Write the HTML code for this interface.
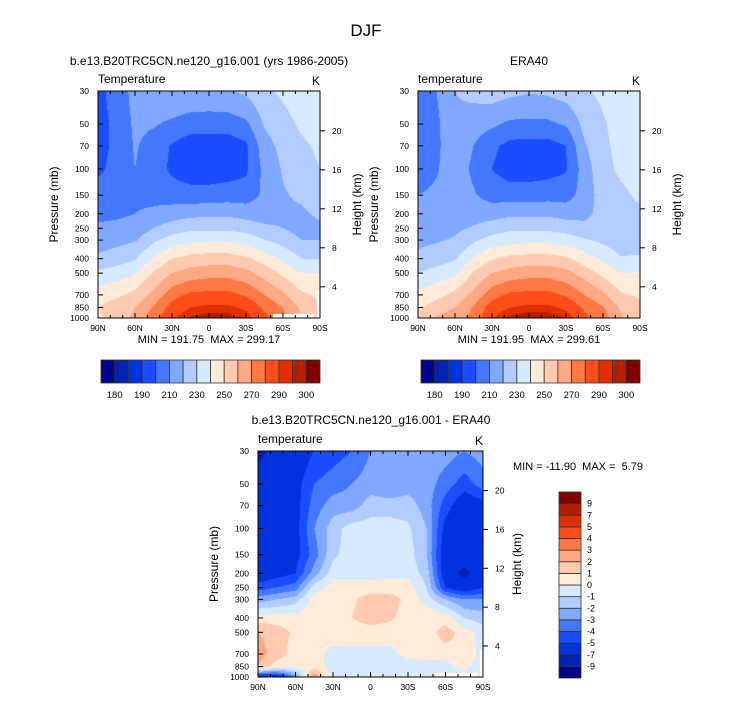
<!DOCTYPE html>
<html><head><meta charset="utf-8">
<style>
body{margin:0;background:#fff;}
#root{position:relative;width:733px;height:701px;overflow:hidden;font-family:"Liberation Sans",sans-serif;}
canvas{position:absolute;}
svg{position:absolute;left:0;top:0;}
</style></head>
<body>
<div id="root">
<canvas id="c1" width="222" height="227" style="left:98px;top:91px"></canvas>
<canvas id="c2" width="222" height="227" style="left:418px;top:91px"></canvas>
<canvas id="c3" width="225" height="226" style="left:258px;top:451px"></canvas>
<svg id="ov" width="733" height="701"></svg>
</div>
<script>
const lats=[90,75,60,45,30,15,0,-15,-30,-45,-60,-75,-90];
const levels=[30,50,70,100,150,200,250,300,400,500,700,850,1000];
const modelT=[
[198,197,197,198,204,207,212,215,222,232,245,250,248],
[203,202,202,203,206,208,213,217,225,235,248,255,255],
[214,212,211,210,208,210,214,219,229,239,253,260,262],
[218,211,206,205,207,212,220,228,241,251,263,271,276],
[220,208,199,198,205,215,225,234,250,260,276,284,288],
[219,205,194,194,204,217,228,237,254,264,282,290,296],
[218,205,194,194,204,218,228,238,255,266,283,292,298],
[219,205,194,195,205,218,228,238,255,266,283,292,298],
[222,208,198,198,205,216,226,236,252,263,279,288,294],
[228,221,216,213,212,215,222,230,245,256,270,278,283],
[232,226,223,221,219,218,220,226,238,248,262,270,273],
[237,232,228,226,222,218,216,220,230,240,252,258,260],
[238,236,232,230,228,222,218,220,230,240,248,250,250]];
const eraT=[
[206,203,203,204,210,213,217,218,222,230,243,248,254],
[210,208,208,209,212,214,217,219,225,234,247,255,261],
[220,218,217,216,214,215,218,221,229,238,253,260,265],
[223,215,210,208,211,215,221,228,241,251,263,271,273],
[225,212,202,200,206,216,225,234,249,260,276,285,289],
[223,208,197,195,205,218,228,236,253,264,282,290,297],
[221,208,196,195,205,218,228,237,254,266,283,292,299],
[222,208,196,196,206,218,228,237,254,266,283,292,299],
[225,211,200,199,206,216,226,235,252,263,279,288,295],
[229,223,219,215,214,217,223,231,244,256,270,278,283],
[232,229,228,227,225,224,225,228,238,247,262,271,274],
[235,234,233,232,228,226,222,223,231,240,251,258,261],
[237,236,235,234,232,228,223,223,232,241,249,251,251]];
const diffT=[
[-7.5,-6,-6,-6,-6,-6,-4.5,-2.5,0.5,2,2.5,2,-6],
[-6.5,-6,-6,-6,-6,-5.5,-4,-2,0.5,1.5,1.5,0.5,-6],
[-6,-5.5,-5.5,-5.5,-5.5,-5,-3.5,-1.5,0.5,0.8,0.5,0.3,-3],
[-5,-4,-3.5,-3,-3.5,-2.5,-0.5,0.5,0.5,0.5,0.3,0.5,3],
[-4.5,-3.5,-2.5,-1.5,-1.2,-0.5,0.5,0.5,0.8,0.5,-0.3,-0.5,-0.5],
[-4,-3,-2.5,-0.5,-0.5,-0.5,0.5,0.8,1,0.5,-0.3,-0.5,-0.5],
[-3,-2.5,-1.5,-0.5,-0.5,-0.5,0.5,1.5,1.5,0.5,-0.3,-0.5,-0.5],
[-2.5,-3,-1.5,-0.5,-0.5,-0.3,0.5,1.5,1.2,0.5,-0.3,-0.5,-0.5],
[-2.5,-2.5,-1.5,-0.8,-0.5,-0.3,0.5,0.7,0.5,0.5,0.3,-0.5,-0.5],
[-2.5,-2.5,-2.5,-2,-2,-1.5,-1,-0.5,0.8,0.5,0.3,-0.3,-0.5],
[-2.5,-3.5,-4.5,-5.5,-6,-6,-5,-2,0.5,1.5,0.5,-0.5,-0.5],
[-3,-4.5,-6,-6,-6,-7.5,-6,-3,-1,0.5,1,0.5,-1],
[-2.5,-3.5,-5.5,-5.5,-5.5,-6,-5,-3,-1.5,-0.5,-0.5,-1,-1]];
const tBounds=[180,185,190,200,210,220,230,240,250,260,270,280,290,295,300];
const tLabels=["180","190","210","230","250","270","290","300"];
const dBounds=[-9,-7,-5,-4,-3,-2,-1,0,1,2,3,4,5,7,9];
const dLabels=["-9","-7","-5","-4","-3","-2","-1","0","1","2","3","4","5","7","9"];
const latTicks=["90N","60N","30N","0","30S","60S","90S"];
const pTicks=[30,50,70,100,150,200,250,300,400,500,700,850,1000];
const hTicks=[4,8,12,16,20];
const colors=["#000088","#0022b0","#0033dd","#1a4dff","#4477ff","#80a8ff","#b3ccff","#d6ebff","#ffebd8","#ffcab0","#ffa884","#ff7845","#ff4d1a","#e03000","#b02000","#800000"];

const L30=Math.log10(30),LR=Math.log10(1000)-L30;
function pToFrac(p){return (Math.log10(p)-L30)/LR;}
function hToP(h){return 1128*Math.exp(-h/6.64);}
function rgb(h){return [parseInt(h.substr(1,2),16),parseInt(h.substr(3,2),16),parseInt(h.substr(5,2),16)];}
const crgb=colors.map(rgb);
const lp=levels.map(p=>Math.log10(p));
function sample(g,lat,p){
  let fi=(90-lat)/15; fi=Math.max(0,Math.min(12,fi));
  const l=Math.log10(p); let j=0; while(j<11&&lp[j+1]<l)j++;
  let fj=(l-lp[j])/(lp[j+1]-lp[j]); fj=Math.max(0,Math.min(1,fj));
  const i=Math.min(11,Math.floor(fi)), fi2=fi-i;
  const a=g[i][j],b=g[i][j+1],c=g[i+1][j],d=g[i+1][j+1];
  return (a*(1-fj)+b*fj)*(1-fi2)+(c*(1-fj)+d*fj)*fi2;
}
function masked(lat,p){return (lat<-52&&lat>-85&&p>940)||(lat<-87.5&&p>650);}
function drawField(id,g,bounds,useMask){
  const cv=document.getElementById(id),ctx=cv.getContext('2d');
  const W=cv.width,H=cv.height,img=ctx.createImageData(W,H);
  for(let y=0;y<H;y++){const p=Math.pow(10,L30+(y+0.5)/H*LR);
    for(let x=0;x<W;x++){const lat=90-(x+0.5)/W*180;const k=(y*W+x)*4;
      let c=[255,255,255];
      if(!(useMask&&masked(lat,p))){const v=sample(g,lat,p);let ci=0;while(ci<bounds.length&&v>=bounds[ci])ci++;c=crgb[ci];}
      img.data[k]=c[0];img.data[k+1]=c[1];img.data[k+2]=c[2];img.data[k+3]=255;}}
  ctx.putImageData(img,0,0);
}
drawField('c1',modelT,tBounds,true);
drawField('c2',eraT,tBounds,false);
drawField('c3',diffT,dBounds,true);

const NS="http://www.w3.org/2000/svg",ov=document.getElementById('ov');
function el(tag,attrs,txt){const e=document.createElementNS(NS,tag);for(const k in attrs)e.setAttribute(k,attrs[k]);if(txt!==undefined)e.textContent=txt;ov.appendChild(e);return e;}
function txt(x,y,s,size,anchor,name,extra){const t=el('text',Object.assign({x:x,y:y,'font-size':size,'text-anchor':anchor||'start','font-family':'Liberation Sans, sans-serif',fill:'#000',style:'white-space:pre'},extra||{}),s);

return t;}

function axes(x0,y0,w,h,pre,leftTitleX,rightTitleX,label){
  const r=el('rect',{x:x0,y:y0,width:w,height:h,fill:'none',stroke:'#000','stroke-width':1});
  
  
  const xs=v=>x0+(90-v)/180*w, ys=p=>y0+pToFrac(p)*h;
  for(let v=90;v>=-90;v-=10){const X=xs(v);const major=(v%30===0);const L=major?5:3;
    el('line',{x1:X,y1:y0+h,x2:X,y2:y0+h-L,stroke:'#000'});el('line',{x1:X,y1:y0,x2:X,y2:y0+L,stroke:'#000'});}
  latTicks.forEach((s,i)=>{txt(x0+i*w/6,y0+h+13,s,8.5,'middle',pre+'-x-tick-label');});
  pTicks.forEach(p=>{const Y=ys(p);el('line',{x1:x0,y1:Y,x2:x0+5,y2:Y,stroke:'#000'});
    txt(x0-9,Y+3,String(p),8.5,'end',pre+'-y-tick-label');});
  hTicks.forEach(hh=>{const Y=ys(hToP(hh));el('line',{x1:x0+w,y1:Y,x2:x0+w+5,y2:Y,stroke:'#000'});
    txt(x0+w+12,Y+3,String(hh),8.5,'start',pre+'-height-tick-label');});
  txt(0,0,'Pressure (mb)',12,'middle',pre+'-y-axis-title',{transform:`translate(${leftTitleX},${y0+h/2}) rotate(-90)`});
  txt(0,0,'Height (km)',12,'middle',pre+'-height-axis-title',{transform:`translate(${rightTitleX},${y0+h/2}) rotate(-90)`});
  txt(x0,y0-8,label,12,'start',pre+'-variable-label');
  txt(x0+w,y0-6,'K',12,'end',pre+'-units-label');
}
axes(98,91,222,227,'model',58,361,'Temperature');
axes(418,91,222,227,'era40',378,681,'temperature');
axes(258,451,225,226,'diff',218,521,'temperature');

txt(366,36,'DJF',17,'middle','figure-title');
txt(209,65,'b.e13.B20TRC5CN.ne120_g16.001 (yrs 1986-2005)',12,'middle','model-panel-title');
txt(529,65,'ERA40',12,'middle','era40-panel-title');
txt(209,343,'MIN = 191.75  MAX = 299.17',11,'middle','model-min-max');
txt(529,343,'MIN = 191.95  MAX = 299.61',11,'middle','era40-min-max');
txt(371,424,'b.e13.B20TRC5CN.ne120_g16.001 - ERA40',12,'middle','diff-panel-title');
txt(513,470,'MIN = -11.90  MAX =  5.79',11,'start','diff-min-max');

function hbar(x0,pre){const bw=219/16;
  colors.forEach((c,i)=>{const r=el('rect',{x:x0+i*bw,y:360,width:bw,height:23,fill:c,stroke:'#333','stroke-width':0.8});
    
    });
  const idx=[1,3,5,7,9,11,13,15];
  tLabels.forEach((s,k)=>{txt(x0+idx[k]*bw,398,s,9.5,'middle',pre+'-colorbar-label');});
}
hbar(101,'model');hbar(421,'era40');
(function(){const bh=186/16;
  colors.forEach((c,i)=>{const r=el('rect',{x:559,y:492+(15-i)*bh,width:22,height:bh,fill:c,stroke:'#333','stroke-width':0.8});
    
    });
  dLabels.forEach((s,k)=>{txt(587,492+(15-(k+1))*bh+bh+3,s,9,'start','diff-colorbar-label');});
})();
</script>
</body></html>
